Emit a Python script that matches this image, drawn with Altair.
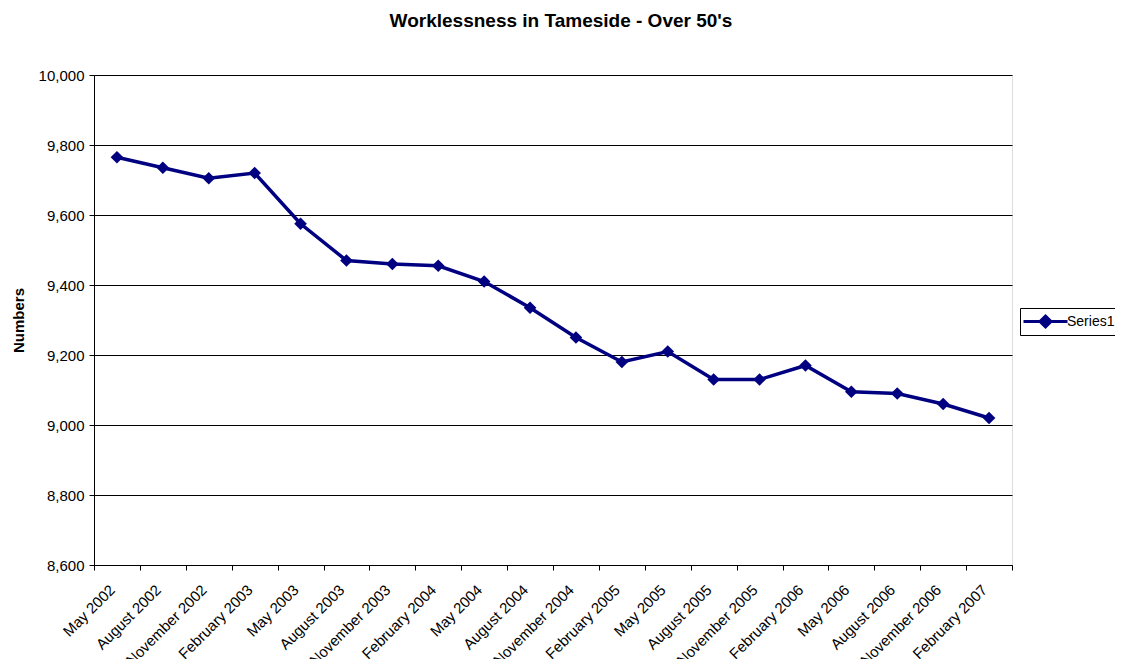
import altair as alt
import pandas as pd

months = ["May 2002", "August 2002", "November 2002", "February 2003",
          "May 2003", "August 2003", "November 2003", "February 2004",
          "May 2004", "August 2004", "November 2004", "February 2005",
          "May 2005", "August 2005", "November 2005", "February 2006",
          "May 2006", "August 2006", "November 2006", "February 2007"]
values = [9765, 9735, 9705, 9720, 9575, 9470, 9460, 9455, 9410, 9335,
          9250, 9180, 9210, 9130, 9130, 9170, 9095, 9090, 9060, 9020]
series = ["Series1"] * len(months)
y_ticks = [8600, 8800, 9000, 9200, 9400, 9600, 9800, 10000]

df = pd.DataFrame({"month": months, "value": values, "series": series})

FONT = "Liberation Sans"
NAVY = "#000080"

x_enc = alt.X("month:N", sort=months, title=None,
              scale=alt.Scale(type="band", paddingInner=0, paddingOuter=0),
              axis=alt.Axis(labelAngle=-45, labelFontSize=15, labelFont=FONT,
                            labelColor="black", tickBand="extent", tickColor="black",
                            domainColor="black", tickSize=5, labelPadding=12,
                            labelOffset=-10,
                            grid=False, labelOverlap=False))
y_enc = alt.Y("value:Q", title="Numbers",
              scale=alt.Scale(domain=[8600, 10000], nice=False, zero=False),
              axis=alt.Axis(values=y_ticks, format=",d", labelFontSize=15, labelFont=FONT,
                            labelColor="black", titleFont=FONT, titleFontSize=15,
                            titleFontWeight="bold", titleColor="black", titlePadding=12,
                            tickColor="black", domainColor="black", tickSize=5,
                            gridColor="black", gridOpacity=1, labelPadding=5))

line = alt.Chart(df).mark_line(strokeWidth=3.5).encode(
    x=x_enc, y=y_enc,
    color=alt.Color("series:N", scale=alt.Scale(range=[NAVY]),
                    legend=alt.Legend(title=None, orient="none", legendX=926, legendY=233,
                                      symbolType="M-2.2,0L2.2,0M0,-0.55L0.55,0L0,0.55L-0.55,0Z",
                                      symbolSize=400, symbolStrokeWidth=3, symbolOffset=12,
                                      symbolFillColor=NAVY, labelFont=FONT,
                                      labelFontSize=14, labelColor="black",
                                      strokeColor="black", fillColor="white",
                                      padding=2, labelOffset=10)),
)
points = alt.Chart(df).mark_point(shape="diamond", filled=True, size=160,
                                  opacity=1, color=NAVY).encode(x=x_enc, y=y_enc)

chart = (line + points).properties(
    width=918, height=490,
    title=alt.TitleParams("Worklessness in Tameside - Over 50's", font=FONT,
                          fontSize=19, fontWeight="bold", color="black",
                          anchor="middle", offset=37, dx=8),
    autosize=alt.AutoSizeParams(type="none"),
    padding={"left": 86, "top": 67, "right": 103, "bottom": 94},
).configure_view(stroke="#808080", strokeWidth=1).configure(background="white")

chart.save("out.html", embed_options={"renderer": "svg", "actions": False})
